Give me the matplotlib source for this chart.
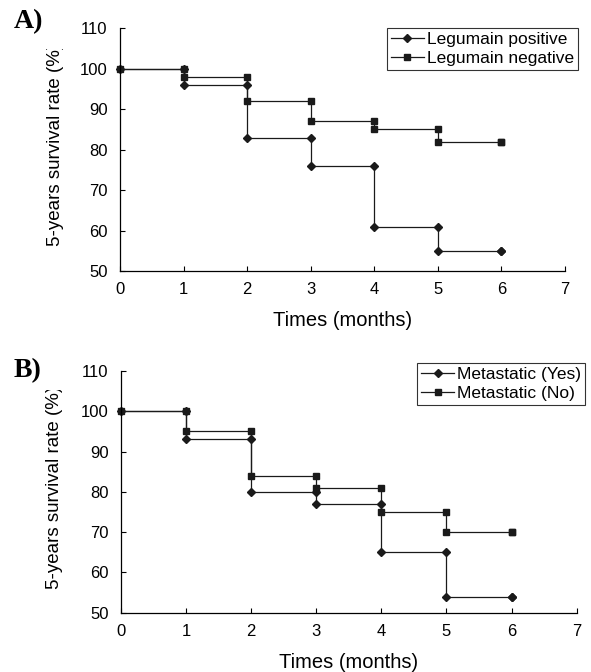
import matplotlib
matplotlib.use("Agg")
import matplotlib.pyplot as plt
from matplotlib.transforms import Bbox, TransformedBbox

plt.rcParams['font.family'] = ['Liberation Sans', 'DejaVu Sans']

# ---- data ----
times = [0, 1, 2, 3, 4, 5, 6]
a_pos = [100, 96, 83, 76, 61, 55, 55]
a_neg = [100, 98, 92, 87, 85, 82, 82]
b_yes = [100, 93, 80, 77, 65, 54, 54]
b_no = [100, 95, 84, 81, 75, 70, 70]
a_labels = ["Legumain positive", "Legumain negative"]
b_labels = ["Metastatic (Yes)", "Metastatic (No)"]
xticks = [0, 1, 2, 3, 4, 5, 6, 7]
yticks = [50, 60, 70, 80, 90, 100, 110]


def step_points(t, s):
    xs, ys = [t[0]], [s[0]]
    for i in range(1, len(t)):
        xs += [t[i], t[i]]
        ys += [s[i - 1], s[i]]
    return xs, ys


W, H = 591, 672
fig = plt.figure(figsize=(W / 100, H / 100), dpi=100)


def make_panel(rect, s1, s2, labels, leg_anchor, letter, letter_xy, clip_top):
    ax = fig.add_axes(rect)
    x1, y1 = step_points(times, s1)
    x2, y2 = step_points(times, s2)
    ax.plot(x1, y1, color='#1a1a1a', lw=0.9, marker='D', ms=3.6,
            label=labels[0], clip_on=False)
    ax.plot(x2, y2, color='#1a1a1a', lw=0.9, marker='s', ms=4.6,
            label=labels[1], clip_on=False)
    ax.set_xlim(0, 7)
    ax.set_ylim(50, 110)
    ax.set_xticks(xticks)
    ax.set_yticks(yticks)
    ax.spines['top'].set_visible(False)
    ax.spines['right'].set_visible(False)
    for sp in ('left', 'bottom'):
        ax.spines[sp].set_linewidth(0.9)
    ax.tick_params(direction='in', length=3.5, width=0.8, labelsize=12)
    ax.tick_params(axis='x', pad=8)
    ax.tick_params(axis='y', pad=9)
    ax.set_xlabel("Times (months)", fontsize=14.5)
    ax.set_ylabel("5-years survival rate (%)", fontsize=13.5)
    ax.xaxis.set_label_coords(0.5, -0.205)
    ax.xaxis.label.set_va('center')
    ax.yaxis.set_label_coords(-0.146, 0.52)
    ax.yaxis.label.set_va('center')
    lab = ax.yaxis.label
    lab.set_clip_box(TransformedBbox(Bbox([[0, 0], [1, clip_top]]), fig.transFigure))
    lab.set_clip_on(True)
    leg = ax.legend(loc='upper right', bbox_to_anchor=leg_anchor,
                    bbox_transform=fig.transFigure, borderaxespad=0,
                    fancybox=False, frameon=True, fontsize=12.5,
                    handlelength=1.9, handletextpad=0.15, labelspacing=0.2,
                    borderpad=0.25)
    leg.get_frame().set_edgecolor('black')
    leg.get_frame().set_linewidth(0.8)
    fig.text(letter_xy[0], letter_xy[1], letter, fontsize=20, fontweight='bold',
             family='Liberation Serif', ha='left', va='center')
    return ax


make_panel([120 / W, 1 - 271 / H, 445 / W, (271 - 28.3) / H],
           a_pos, a_neg, a_labels, (578 / W, 1 - 28 / H), "A)",
           (14 / W, 1 - 22 / H), 1 - 49 / H)
make_panel([121 / W, 1 - 612.7 / H, 455.7 / W, (612.7 - 371) / H],
           b_yes, b_no, b_labels, (585 / W, 1 - 363 / H), "B)",
           (14 / W, 1 - 371 / H), 1 - 390 / H)

fig.savefig("out.png", dpi=100)
